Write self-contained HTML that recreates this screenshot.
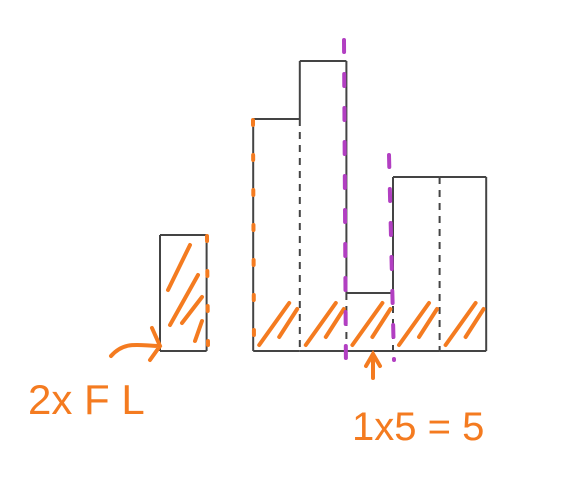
<!DOCTYPE html>
<html><head><meta charset="utf-8"><style>
html,body{margin:0;padding:0;background:#fff;width:563px;height:483px;overflow:hidden}
text{font-family:"Liberation Sans",sans-serif}
</style></head><body>
<svg id="chart" width="563" height="483" viewBox="0 0 563 483" xmlns="http://www.w3.org/2000/svg">
<g id="bars"></g>
<g id="hatch" stroke="#f47b20" stroke-width="4" stroke-linecap="round" fill="none"></g>
<g stroke="#b23fc2" stroke-width="4" stroke-linecap="round" stroke-dasharray="12 22">
<line x1="344" y1="40" x2="346" y2="378"/>
<line x1="389" y1="155" x2="394" y2="360"/>
</g>
<g stroke="#f47b20" stroke-width="4" stroke-linecap="round" stroke-dasharray="5 30">
<line x1="253" y1="120" x2="254" y2="350"/>
<line x1="207" y1="236" x2="208" y2="345"/>
</g>
<path d="M111 356 C125 340 140 346 160 346 M152 328 L160 346 L150 360" stroke="#f47b20" stroke-width="4" fill="none" stroke-linecap="round"/>
<path d="M373 378 L373 356 M366 366 L373 354 L380 366" stroke="#f47b20" stroke-width="4" fill="none" stroke-linecap="round"/>
<text x="28" y="414" font-size="42" fill="#f47b20">2x F L</text>
<text x="352" y="440" font-size="40" fill="#f47b20">1x5 = 5</text>
</svg>
<script>
const categories = ["b1","b2","b3","b4","b5","b6","b7"];
const values = [2,0,4,5,1,3,3];
const x0 = 160, bw = 46.6, base = 351, unit = 58;
const xs = i => x0 + i*bw;
const ys = v => base - v*unit;
const NS="http://www.w3.org/2000/svg";
const g=document.getElementById('bars'), h=document.getElementById('hatch');
function ln(p,x1,y1,x2,y2,dash,name){const l=document.createElementNS(NS,'line');
l.setAttribute('x1',x1);l.setAttribute('y1',y1);l.setAttribute('x2',x2);l.setAttribute('y2',y2);
l.setAttribute('stroke','#444');l.setAttribute('stroke-width','2');if(dash)l.setAttribute('stroke-dasharray','7 6');


p.appendChild(l);return l;}
function hl(x1,y1,x2,y2){const l=ln(h,x1,y1,x2,y2,false,'hatch-stroke');
  l.setAttribute('stroke','#f47b20');l.setAttribute('stroke-width','4');}
values.forEach((v,i)=>{
  if(v<=0) return;
  const xl=xs(i), xr=xs(i+1), yt=ys(v);
  ln(g,xl,yt,xr,yt,false,'bar-top-'+categories[i]);
  ln(g,xl,base,xr,base,false,'bar-base-'+categories[i]);
  const lv = i>0?values[i-1]:0, rv = i<values.length-1?values[i+1]:0;
  if(lv<=0) ln(g,xl,yt,xl,base,false,'bar-edge');
  else if(lv<v) { ln(g,xl,yt,xl,ys(lv),false,'bar-edge'); ln(g,xl,ys(lv),xl,base,true,'bar-divider'); }
  else ln(g,xl,yt,xl,base,true,'bar-divider');
  if(rv<=0) { ln(g,xr,yt,xr,base,false,'bar-edge'); }
  else if(rv<v) ln(g,xr,yt,xr,ys(rv),false,'bar-edge');
  if(i===0){
    hl(xl+8,yt+55,xl+30,yt+10);
    hl(xl+10,yt+90,xl+38,yt+40);
    hl(xl+22,base-28,xl+42,yt+62);
    hl(xl+35,base-10,xl+42,base-30);
  } else {
    hl(xl+6,base-6,xl+36,ys(1)+10);
    hl(xl+26,base-14,xl+44,ys(1)+16);
  }
});
</script>
</body></html>
